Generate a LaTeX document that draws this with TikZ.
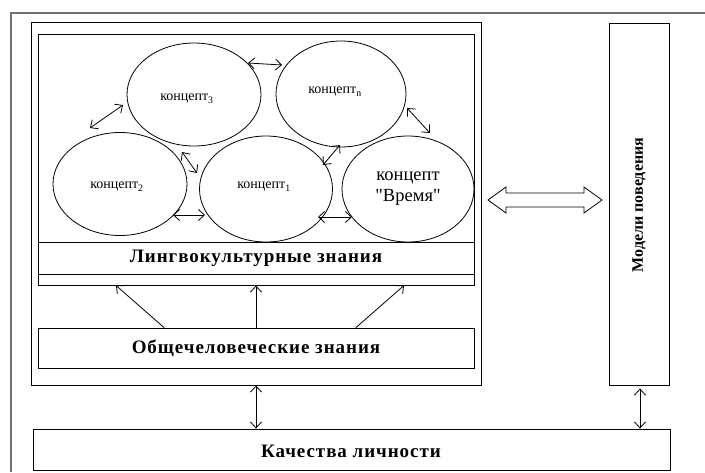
\documentclass[tikz,border=0pt]{standalone}
\usepackage{fontspec}
\setmainfont{Liberation Serif}
\usetikzlibrary{arrows.meta,shapes.geometric}
\definecolor{framegray}{HTML}{707070}
\begin{document}
\begin{tikzpicture}[x=1pt,y=-1pt,
  box/.style={draw, line width=0.9pt, inner sep=0pt, rectangle},
  ell/.style={draw, ellipse, line width=0.8pt, inner sep=0pt, align=center},
  ctext/.style={font=\fontsize{14}{16}\selectfont},
  btext/.style={font=\fontsize{19}{22}\selectfont\bfseries\addfontfeature{LetterSpace=5}},
  dbl/.style={{Straight Barb[length=6pt,width=11pt]}-{Straight Barb[length=6pt,width=11pt]}, line width=0.8pt},
  sgl/.style={-{Straight Barb[length=6pt,width=11pt]}, line width=0.8pt}]
\useasboundingbox (0,0) rectangle (705,472);
% outer frame (cut off at right and bottom)
\draw[framegray, line width=1.4pt] (11,472) -- (11,13) -- (705,13);
% main boxes
\node[box, minimum width=450pt, minimum height=363pt] (big) at (256,203.5) {};
\node[box, minimum width=436pt, minimum height=251pt] (conc) at (256,159.5) {};
\node[box, minimum width=436pt, minimum height=32pt, btext] (lk) at (256,258) {Лингвокультурные знания};
\node[box, minimum width=436pt, minimum height=40pt, btext] (ob) at (256,348) {Общечеловеческие знания};
\node[box, minimum width=60pt, minimum height=362pt] (mod) at (639,204) {};
\node[rotate=90, font=\fontsize{16}{18}\selectfont\bfseries] (modt) at (639,205) {Модели поведения};
\node[box, minimum width=637pt, minimum height=41pt] (kach) at (351.5,449.5) {};
\node[btext] (kacht) at (351,451) {Качества личности};
% ellipses
\node[ell, minimum width=134pt, minimum height=103pt] (c3) at (194,94.5) {};
\node[ctext] (c3t) at (187,99) {концепт\textsubscript{3}};
\node[ell, minimum width=130pt, minimum height=106pt] (cn) at (341,94) {};
\node[ctext] (cnt) at (335,92) {концепт\textsubscript{n}};
\node[ell, minimum width=134pt, minimum height=103pt] (c2) at (120,184) {};
\node[ctext] (c2t) at (117,187) {концепт\textsubscript{2}};
\node[ell, minimum width=133pt, minimum height=106pt] (c1) at (266,189) {};
\node[ctext] (c1t) at (264,187) {концепт\textsubscript{1}};
\node[ell, minimum width=132pt, minimum height=106pt, font=\fontsize{18.5}{21}\selectfont] (vr) at (408,189) {концепт\\\textquotedbl Время\textquotedbl};
% arrows between concepts
\coordinate (a1s) at (248,63);  \coordinate (a1e) at (282,65);
\coordinate (a2s) at (90,128);  \coordinate (a2e) at (123,105);
\coordinate (a3s) at (182,152); \coordinate (a3e) at (197,173);
\coordinate (a4s) at (173,215); \coordinate (a4e) at (205,215);
\coordinate (a5s) at (323,165); \coordinate (a5e) at (340,145);
\coordinate (a6s) at (318,217); \coordinate (a6e) at (352,217);
\coordinate (a7s) at (407,108); \coordinate (a7e) at (430,133);
\draw[dbl] (a1s) -- (a1e);
\draw[dbl] (a2s) -- (a2e);
\draw[dbl] (a3s) -- (a3e);
\draw[dbl] (a4s) -- (a4e);
\draw[dbl] (a5s) -- (a5e);
\draw[dbl] (a6s) -- (a6e);
\draw[dbl] (a7s) -- (a7e);
% arrows from Общечеловеческие знания
\draw[sgl] (ob.north -| 164,0) -- (116,285.5);
\draw[sgl] (ob.north) -- (conc.south);
\draw[sgl] (ob.north -| 356,0) -- (404,285.5);
% vertical double arrows
\draw[dbl] (big.south) -- (kach.north -| big.south);
\draw[dbl] (mod.south) ++(1,3) coordinate (m1) -- (m1 |- kach.north);
% hollow wide double arrow
\draw[line width=0.8pt, fill=white] (488,200) -- (506,187) -- (506,193) -- (584,193) -- (584,187) -- (602,200) -- (584,213) -- (584,207) -- (506,207) -- (506,213) -- cycle;
\end{tikzpicture}
\end{document}
